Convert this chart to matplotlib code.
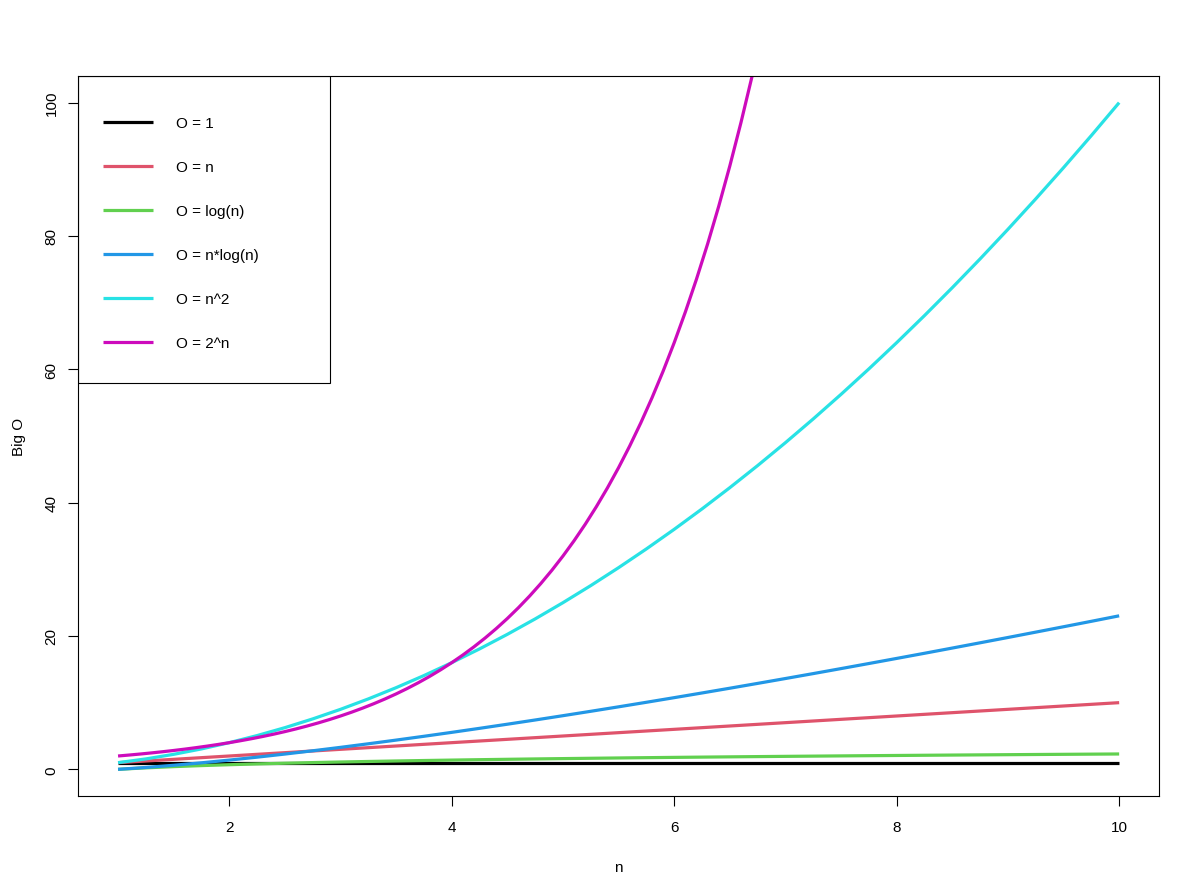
import matplotlib
matplotlib.use("Agg")
import matplotlib.pyplot as plt
from matplotlib.patches import Rectangle

plt.rcParams['font.family'] = ['Liberation Sans', 'DejaVu Sans']

# n grid, step 0.25
n = [1.0, 1.25, 1.5, 1.75, 2.0, 2.25, 2.5, 2.75, 3.0, 3.25, 3.5, 3.75,
     4.0, 4.25, 4.5, 4.75, 5.0, 5.25, 5.5, 5.75, 6.0, 6.25, 6.5, 6.75,
     7.0, 7.25, 7.5, 7.75, 8.0, 8.25, 8.5, 8.75, 9.0, 9.25, 9.5, 9.75, 10.0]

o_one = [1.0] * 37
o_n = [1.0, 1.25, 1.5, 1.75, 2.0, 2.25, 2.5, 2.75, 3.0, 3.25, 3.5, 3.75,
       4.0, 4.25, 4.5, 4.75, 5.0, 5.25, 5.5, 5.75, 6.0, 6.25, 6.5, 6.75,
       7.0, 7.25, 7.5, 7.75, 8.0, 8.25, 8.5, 8.75, 9.0, 9.25, 9.5, 9.75, 10.0]
o_log = [0.0, 0.223, 0.405, 0.560, 0.693, 0.811, 0.916, 1.012, 1.099, 1.179,
         1.253, 1.322, 1.386, 1.447, 1.504, 1.558, 1.609, 1.658, 1.705, 1.749,
         1.792, 1.833, 1.872, 1.910, 1.946, 1.981, 2.015, 2.048, 2.079, 2.110,
         2.140, 2.169, 2.197, 2.225, 2.251, 2.277, 2.303]
o_nlog = [0.0, 0.279, 0.608, 0.979, 1.386, 1.825, 2.291, 2.782, 3.296, 3.831,
          4.385, 4.957, 5.545, 6.149, 6.768, 7.401, 8.047, 8.706, 9.376, 10.058,
          10.751, 11.454, 12.167, 12.890, 13.621, 14.361, 15.112, 15.871, 16.636,
          17.407, 18.191, 18.980, 19.775, 20.579, 21.387, 22.202, 23.026]
o_sq = [1.0, 1.5625, 2.25, 3.0625, 4.0, 5.0625, 6.25, 7.5625, 9.0, 10.5625,
        12.25, 14.0625, 16.0, 18.0625, 20.25, 22.5625, 25.0, 27.5625, 30.25,
        33.0625, 36.0, 39.0625, 42.25, 45.5625, 49.0, 52.5625, 56.25, 60.0625,
        64.0, 68.0625, 72.25, 76.5625, 81.0, 85.5625, 90.25, 95.0625, 100.0]

# 2^n on a finer grid (step 0.1), it leaves the plot near n = 6.7
n_exp = [1.0, 1.1, 1.2, 1.3, 1.4, 1.5, 1.6, 1.7, 1.8, 1.9,
         2.0, 2.1, 2.2, 2.3, 2.4, 2.5, 2.6, 2.7, 2.8, 2.9,
         3.0, 3.1, 3.2, 3.3, 3.4, 3.5, 3.6, 3.7, 3.8, 3.9,
         4.0, 4.1, 4.2, 4.3, 4.4, 4.5, 4.6, 4.7, 4.8, 4.9,
         5.0, 5.1, 5.2, 5.3, 5.4, 5.5, 5.6, 5.7, 5.8, 5.9,
         6.0, 6.1, 6.2, 6.3, 6.4, 6.5, 6.6, 6.7, 6.8, 6.9, 7.0]
o_exp = [2.000, 2.144, 2.297, 2.462, 2.639, 2.828, 3.031, 3.249, 3.482, 3.732,
         4.000, 4.287, 4.595, 4.925, 5.278, 5.657, 6.063, 6.498, 6.964, 7.464,
         8.000, 8.574, 9.190, 9.849, 10.556, 11.314, 12.126, 12.996, 13.929, 14.929,
         16.000, 17.148, 18.379, 19.698, 21.112, 22.627, 24.251, 25.992, 27.858, 29.857,
         32.000, 34.297, 36.758, 39.396, 42.224, 45.255, 48.503, 51.984, 55.715, 59.714,
         64.000, 68.594, 73.517, 78.793, 84.449, 90.510, 97.006, 103.968, 111.430,
         119.428, 128.000]

xs = [n, n, n, n, n, n_exp]
series = [o_one, o_n, o_log, o_nlog, o_sq, o_exp]
labels = ["O = 1", "O = n", "O = log(n)", "O = n*log(n)", "O = n^2", "O = 2^n"]
colors = ["black", "#DF536B", "#61D04F", "#2297E6", "#28E2E5", "#CD0BBC"]

fig = plt.figure(figsize=(12, 8.95), dpi=100)
ax = fig.add_axes([0.065, 0.1095, 0.901, 0.8045])

for x, ys, lab, c in zip(xs, series, labels, colors):
    ax.plot(x, ys, color=c, lw=2.3, label=lab, solid_capstyle='butt')

ax.set_xlim(0.64, 10.36)
ax.set_ylim(-4, 104)
ax.set_xticks([2, 4, 6, 8, 10])
ax.set_yticks([0, 20, 40, 60, 80, 100])
ax.tick_params(length=7, width=0.8, labelsize=11)
ax.tick_params(axis='x', pad=10)
ax.tick_params(axis='y', pad=7)
for lbl in ax.get_yticklabels():
    lbl.set_rotation(90)
    lbl.set_va('center')
for sp in ax.spines.values():
    sp.set_linewidth(0.8)

ax.set_xlabel("n", fontsize=11, labelpad=19)
ax.set_ylabel("Big O", fontsize=11, labelpad=13)

# legend frame (R style box)
ax.add_patch(Rectangle((0, 0.5736), 0.233, 0.4264, transform=ax.transAxes,
                       fill=False, ec='black', lw=0.8, zorder=5))
leg = ax.legend(loc='upper left', bbox_to_anchor=(0.023, 0.944), frameon=False,
                fontsize=11, handlelength=3.27, handletextpad=1.5,
                labelspacing=1.96, borderpad=0, borderaxespad=0)
for h in leg.get_lines():
    h.set_linewidth(2.3)

fig.savefig("out.png", dpi=100)
